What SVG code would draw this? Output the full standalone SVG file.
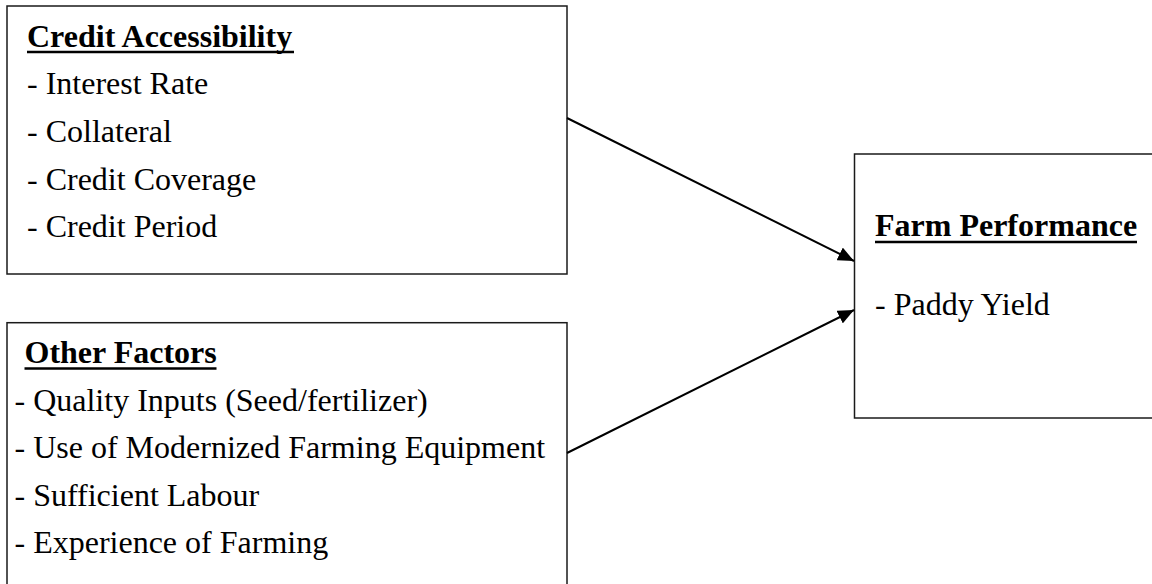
<svg xmlns="http://www.w3.org/2000/svg" width="1152" height="584" viewBox="0 0 1152 584">
  <style>
    .box { fill: #ffffff; stroke: #1a1a1a; stroke-width: 1.5; }
    .title { font-family: "Liberation Serif", "Times New Roman", serif; font-size: 32px; font-weight: bold; fill: #000; }
    .item { font-family: "Liberation Serif", "Times New Roman", serif; font-size: 32px; fill: #000; }
    .ul { stroke: #000; stroke-width: 2.6; }
    .conn { stroke: #000; stroke-width: 2; fill: none; marker-end: url(#arrow); }
  </style>
  <defs>
    <marker id="arrow" markerUnits="userSpaceOnUse" markerWidth="18" markerHeight="14" refX="16" refY="7" orient="auto">
      <path d="M0,0 L16,7 L0,14 Z" fill="#000"/>
    </marker>
  </defs>
  <rect width="1152" height="584" fill="#ffffff"/>

  <g id="credit-accessibility">
    <rect class="box" x="7" y="6" width="560" height="268"/>
    <text class="title" x="27" y="46.5">Credit Accessibility</text>
    <line class="ul" x1="27" y1="52" x2="294" y2="52"/>
    <text class="item" x="27" y="94">- Interest Rate</text>
    <text class="item" x="27" y="142">- Collateral</text>
    <text class="item" x="27" y="190">- Credit Coverage</text>
    <text class="item" x="27" y="237">- Credit Period</text>
  </g>

  <g id="other-factors">
    <rect class="box" x="7" y="322.7" width="560" height="290"/>
    <text class="title" x="24.5" y="363">Other Factors</text>
    <line class="ul" x1="24.5" y1="368.5" x2="216.5" y2="368.5"/>
    <text class="item" x="14.5" y="410.5">- Quality Inputs (Seed/fertilizer)</text>
    <text class="item" x="14.5" y="457.5">- Use of Modernized Farming Equipment</text>
    <text class="item" x="14.5" y="505.5">- Sufficient Labour</text>
    <text class="item" x="14.5" y="552.5">- Experience of Farming</text>
  </g>

  <g id="farm-performance">
    <rect class="box" x="854.5" y="154" width="310" height="264"/>
    <text class="title" x="875" y="236">Farm Performance</text>
    <line class="ul" x1="875" y1="242" x2="1137" y2="242"/>
    <text class="item" x="875" y="315">- Paddy Yield</text>
  </g>

  <g id="connectors">
    <line class="conn" x1="567" y1="118" x2="854" y2="261"/>
    <line class="conn" x1="567" y1="453" x2="854" y2="310"/>
  </g>
</svg>
